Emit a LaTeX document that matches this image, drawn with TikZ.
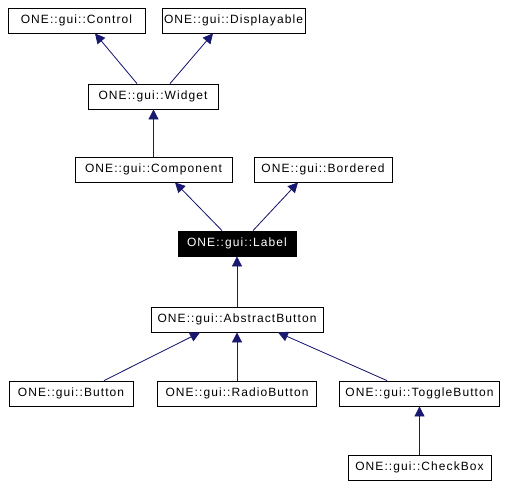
\documentclass[tikz,border=0pt]{standalone}
\usepackage{fontspec}
\setmainfont{Liberation Sans}[LetterSpace=9]
\usetikzlibrary{arrows.meta}
\definecolor{edgeblue}{HTML}{191970}
\begin{document}
\begin{tikzpicture}[
  x=1pt, y=-1pt,
  cls/.style={draw, thick, fill=white, align=center, inner sep=0pt, minimum height=25pt,
    font=\fontsize{12}{14}\selectfont},
  current/.style={cls, fill=black, text=white},
  arrow/.style={{Triangle[length=10pt,width=10pt]}-, draw=edgeblue, fill=edgeblue, line width=0.8pt}
]
\useasboundingbox (0,0) rectangle (510,490);
\node[cls, minimum width=137pt] (control) at (76.5,20.5) {ONE::gui::Control};
\node[cls, minimum width=143pt] (displayable) at (233.5,20.5) {ONE::gui::Displayable};
\node[cls, minimum width=130pt] (widget) at (153,96.5) {ONE::gui::Widget};
\node[cls, minimum width=157pt] (component) at (153.5,169.5) {ONE::gui::Component};
\node[cls, minimum width=138pt] (bordered) at (323,169.5) {ONE::gui::Bordered};
\node[current, minimum width=118pt] (label) at (237,243.5) {ONE::gui::Label};
\node[cls, minimum width=172pt] (abstractbutton) at (237,319.5) {ONE::gui::AbstractButton};
\node[cls, minimum width=124pt] (button) at (71,393.5) {ONE::gui::Button};
\node[cls, minimum width=159pt] (radiobutton) at (237,393.5) {ONE::gui::RadioButton};
\node[cls, minimum width=160pt] (togglebutton) at (419.5,393.5) {ONE::gui::ToggleButton};
\node[cls, minimum width=143pt] (checkbox) at (419.5,467.5) {ONE::gui::CheckBox};
\draw[arrow] ([xshift=18.5pt]control.south) -- ([xshift=-16pt]widget.north);
\draw[arrow] ([xshift=-20.5pt]displayable.south) -- ([xshift=17pt]widget.north);
\draw[arrow] (widget.south -| component.north) -- (component.north);
\draw[arrow] ([xshift=21.5pt]component.south) -- ([xshift=-15pt]label.north);
\draw[arrow] ([xshift=-25pt]bordered.south) -- ([xshift=16pt]label.north);
\draw[arrow] (label.south) -- (abstractbutton.north);
\draw[arrow] ([xshift=-37pt]abstractbutton.south) -- ([xshift=33pt]button.north);
\draw[arrow] (abstractbutton.south) -- (radiobutton.north);
\draw[arrow] ([xshift=41pt]abstractbutton.south) -- ([xshift=-32.5pt]togglebutton.north);
\draw[arrow] (togglebutton.south) -- (checkbox.north);
\end{tikzpicture}
\end{document}
